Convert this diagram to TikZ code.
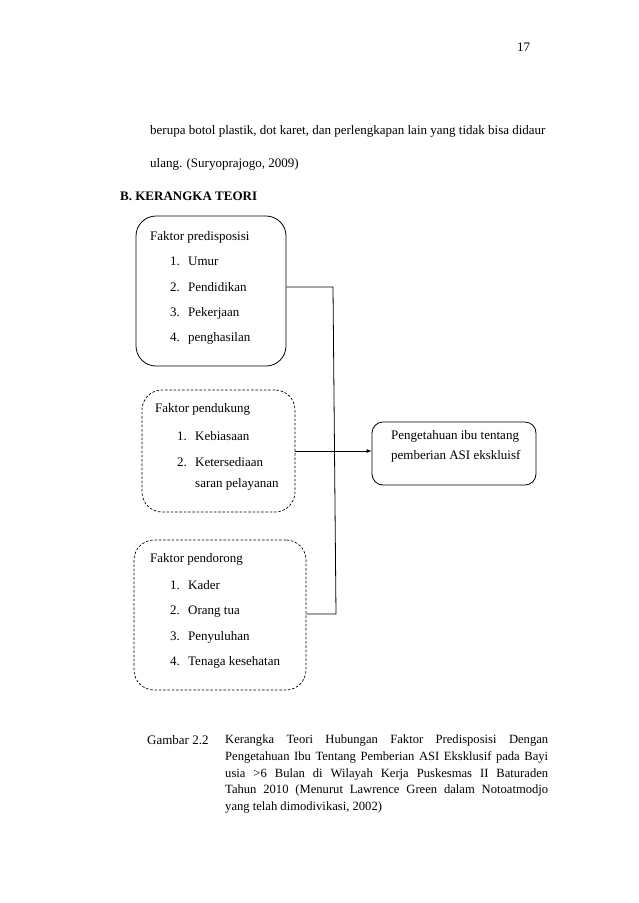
\documentclass[tikz,border=0pt]{standalone}
\usepackage{fontspec}
\setmainfont{Liberation Serif}
\usetikzlibrary{arrows.meta}
\begin{document}
\begin{tikzpicture}[x=1pt,y=-1pt,
  txt/.style={anchor=base west,inner sep=0pt,font=\fontsize{13}{15}\selectfont},
  boxsolid/.style={draw,line width=0.8pt,rounded corners=20pt,inner sep=0pt},
  boxdash/.style={draw,line width=0.7pt,rounded corners=20pt,inner sep=0pt,dash pattern=on 2.5pt off 1.8pt},
  boxout/.style={draw,line width=0.8pt,rounded corners=11pt,inner sep=0pt},
  conn/.style={line width=0.8pt}]
\useasboundingbox (0,0) rectangle (638,903);
\fill[white] (0,0) rectangle (638,903);
% header text
\node[txt] (pg) at (517,51) {17};
\node[txt] (l1) at (150,134) {berupa botol plastik, dot karet, dan perlengkapan lain yang tidak bisa didaur};
\node[txt] (l2) at (150,167) {ulang. (Suryoprajogo, 2009)};
\node[txt,font=\fontsize{13}{15}\selectfont\bfseries] (hd) at (120,200) {B. KERANGKA TEORI};
% boxes
\node[boxsolid,minimum width=150,minimum height=150] (b1) at (211,291) {};
\node[boxdash,minimum width=153,minimum height=122] (b2) at (218.5,451) {};
\node[boxdash,minimum width=172,minimum height=150] (b3) at (220,615) {};
\node[boxout,minimum width=164,minimum height=63] (b4) at (454,453.5) {};
% box 1 text
\node[txt] (t1) at (150,240) {Faktor predisposisi};
\node[txt] (t1a) at (170,265) {1.};  \node[txt] (t1aa) at (188,265) {Umur};
\node[txt] (t1b) at (170,291) {2.};  \node[txt] (t1bb) at (188,291) {Pendidikan};
\node[txt] (t1c) at (170,316) {3.};  \node[txt] (t1cc) at (188,316) {Pekerjaan};
\node[txt] (t1d) at (170,341) {4.};  \node[txt] (t1dd) at (188,341) {penghasilan};
% box 2 text
\node[txt] (t2) at (155,412) {Faktor pendukung};
\node[txt] (t2a) at (177,440) {1.};  \node[txt] (t2aa) at (195,440) {Kebiasaan};
\node[txt] (t2b) at (177,466) {2.};  \node[txt] (t2bb) at (195,466) {Ketersediaan};
\node[txt] (t2c) at (195,487) {saran pelayanan};
% box 3 text
\node[txt] (t3) at (150,562) {Faktor pendorong};
\node[txt] (t3a) at (170,589) {1.};  \node[txt] (t3aa) at (188,589) {Kader};
\node[txt] (t3b) at (170,614) {2.};  \node[txt] (t3bb) at (188,614) {Orang tua};
\node[txt] (t3c) at (170,640) {3.};  \node[txt] (t3cc) at (188,640) {Penyuluhan};
\node[txt] (t3d) at (170,665) {4.};  \node[txt] (t3dd) at (188,665) {Tenaga kesehatan};
% box 4 text
\node[txt] (t4a) at (391,439) {Pengetahuan ibu tentang};
\node[txt] (t4b) at (391,459) {pemberian ASI ekskluisf};
% connectors
\coordinate (busTop) at (333,287);
\coordinate (busBot) at (336,614);
\draw[conn] (b1.east |- busTop) -- (busTop) -- (busBot) -- (b3.east |- busBot);
\draw[conn,-{Latex[length=5pt,width=4pt]}] (b2.east) -- (b4.west |- b2.east);
% caption
\node[txt] (cap) at (147,744) {Gambar 2.2};
\node[anchor=north west,inner sep=0pt,text width=323pt,align=justify,
  font=\fontsize{12.6}{16.8}\selectfont] (capt) at (225,734.5)
  {\hyphenpenalty=10000 \hbadness=10000 Kerangka Teori Hubungan Faktor Predisposisi Dengan\linebreak Pengetahuan Ibu Tentang Pemberian ASI Eksklusif pada Bayi\linebreak usia \textgreater6 Bulan di Wilayah Kerja Puskesmas II Baturaden\linebreak Tahun 2010 (Menurut Lawrence Green dalam Notoatmodjo\linebreak yang telah dimodivikasi, 2002)};
\end{tikzpicture}
\end{document}
